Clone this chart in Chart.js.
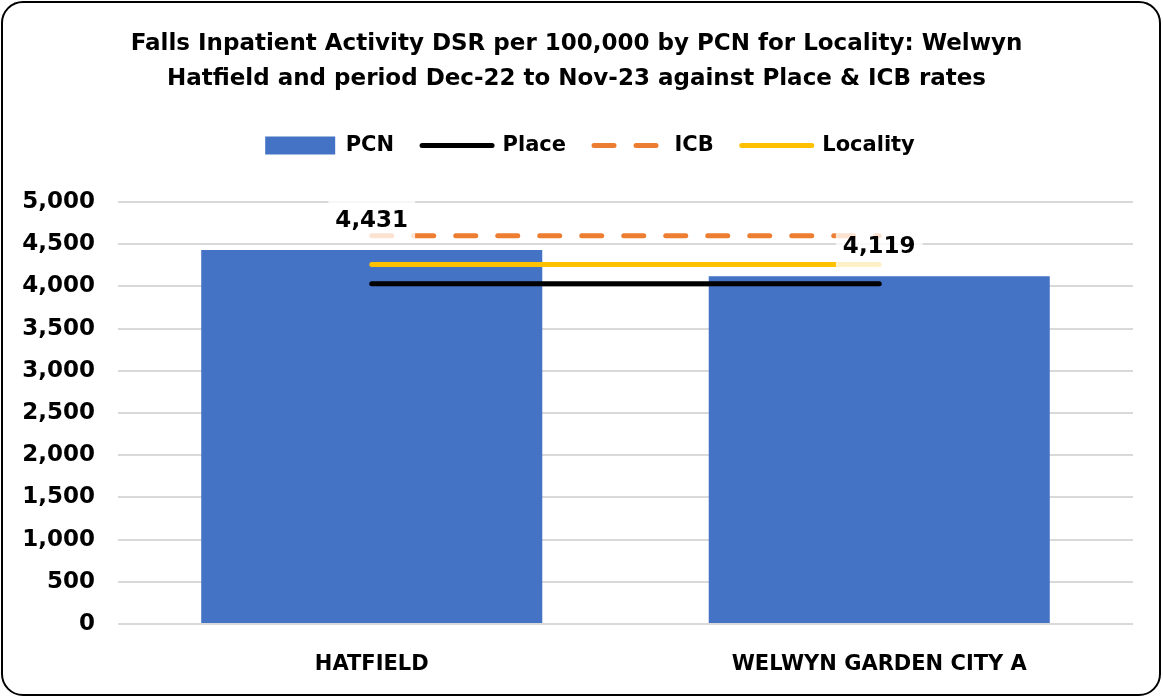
<!DOCTYPE html>
<html>
<head>
<meta charset="utf-8">
<script src="https://cdn.jsdelivr.net/npm/chart.js@4"></script>
<style>
  body { margin: 0; background: #fff; }
  #frame {
    position: absolute; left: 1px; top: 1px;
    width: 1160px; height: 695px;
    box-sizing: border-box;
    border: 2px solid #000; border-radius: 22px;
    background: #fff; overflow: hidden;
  }
  #wrap { position: relative; width: 100%; height: 100%; }
</style>
</head>
<body>
<div id="frame"><div id="wrap"><canvas id="chart"></canvas></div></div>
<script>
// data
const categories = ['HATFIELD', 'WELWYN GARDEN CITY A'];
const pcnValues = [4431, 4119];
const placeValues = [4030, 4030];
const icbValues = [4600, 4600];
const localityValues = [4260, 4260];
const titleLines = [
    'Falls Inpatient Activity DSR per 100,000 by PCN for Locality: Welwyn',
    'Hatfield and period Dec-22 to Nov-23 against Place & ICB rates'
];

const FONT = '"DejaVu Sans", sans-serif';

// value labels on the bars, drawn over the lines with a faded white box
const barLabels = {
    id: 'barLabels',
    afterDatasetsDraw(chart) {
        const ctx = chart.ctx;
        const meta = chart.getDatasetMeta(0);
        ctx.save();
        ctx.font = 'bold 23px ' + FONT;
        ctx.textAlign = 'center';
        ctx.textBaseline = 'middle';
        meta.data.forEach((bar, i) => {
            const text = pcnValues[i].toLocaleString('en-GB');
            const w = ctx.measureText(text).width;
            const cy = bar.y - 29;
            ctx.fillStyle = 'rgba(255,255,255,0.78)';
            ctx.fillRect(bar.x - w / 2 - 7, cy - 20, w + 14, 40);
            ctx.fillStyle = '#000';
            ctx.fillText(text, bar.x, cy);
        });
        ctx.restore();
    }
};

// extra room under the legend, and drop the trailing item padding so the row centres properly
const legendGap = {
    id: 'legendGap',
    beforeInit(chart) {
        const fit = chart.legend.fit;
        chart.legend.fit = function () {
            fit.bind(chart.legend)();
            this.height += 36;
            if (this.lineWidths) {
                this.lineWidths = this.lineWidths.map((w) => w - 27);
            }
        };
    }
};

new Chart(document.getElementById('chart'), {
    data: {
        labels: categories,
        datasets: [
            {
                type: 'bar',
                label: 'PCN',
                data: pcnValues,
                backgroundColor: '#4472C4',
                borderWidth: 0,
                pointStyle: 'rect',
                categoryPercentage: 1,
                barPercentage: 0.672,
                order: 1
            },
            {
                type: 'line',
                label: 'Place',
                data: placeValues,
                borderColor: '#000000',
                backgroundColor: '#000000',
                borderWidth: 5,
                borderCapStyle: 'round',
                pointRadius: 0,
                pointStyle: 'line',
                order: 0
            },
            {
                type: 'line',
                label: 'ICB',
                data: icbValues,
                borderColor: '#ED7D31',
                backgroundColor: '#ED7D31',
                borderWidth: 5,
                borderCapStyle: 'round',
                borderDash: [20, 22],
                pointRadius: 0,
                pointStyle: 'line',
                order: 0
            },
            {
                type: 'line',
                label: 'Locality',
                data: localityValues,
                borderColor: '#FFC000',
                backgroundColor: '#FFC000',
                borderWidth: 5,
                borderCapStyle: 'round',
                pointRadius: 0,
                pointStyle: 'line',
                order: 0
            }
        ]
    },
    options: {
        responsive: true,
        maintainAspectRatio: false,
        animation: false,
        layout: {
            padding: { top: 10, right: 26, bottom: 0, left: 17 }
        },
        scales: {
            x: {
                grid: { display: false, drawTicks: false },
                border: { display: false },
                ticks: {
                    color: '#000',
                    padding: 28,
                    font: { family: FONT, size: 21, weight: 'bold' }
                },
                afterFit: (scale) => { scale.height = 70; }
            },
            y: {
                min: 0,
                max: 5000,
                grid: { color: '#D9D9D9', lineWidth: 2, drawTicks: false },
                border: { display: false },
                ticks: {
                    stepSize: 500,
                    color: '#000',
                    padding: 23,
                    font: { family: FONT, size: 23, weight: 'bold' },
                    callback: (v) => v.toLocaleString('en-GB')
                },
                afterFit: (scale) => { scale.width = 98; }
            }
        },
        plugins: {
            title: {
                display: true,
                text: titleLines,
                color: '#000',
                font: { family: FONT, size: 23, weight: 'bold', lineHeight: 1.52 },
                padding: { top: 14, bottom: 10 }
            },
            legend: {
                position: 'top',
                labels: {
                    usePointStyle: true,
                    pointStyleWidth: 70,
                    boxHeight: 18,
                    padding: 28,
                    color: '#000',
                    font: { family: FONT, size: 21, weight: 'bold' },
                    sort: (a, b) => a.datasetIndex - b.datasetIndex,
                    generateLabels: (chart) => {
                        const items = Chart.defaults.plugins.legend.labels.generateLabels(chart);
                        items.forEach((item) => {
                            const ds = chart.data.datasets[item.datasetIndex];
                            if (ds.type === 'line') {
                                item.lineDash = ds.borderDash || [];
                                item.lineCap = 'round';
                                item.lineWidth = 5;
                                item.strokeStyle = ds.borderColor;
                            }
                        });
                        return items;
                    }
                }
            },
            tooltip: { enabled: false }
        }
    },
    plugins: [barLabels, legendGap]
});
</script>
</body>
</html>
